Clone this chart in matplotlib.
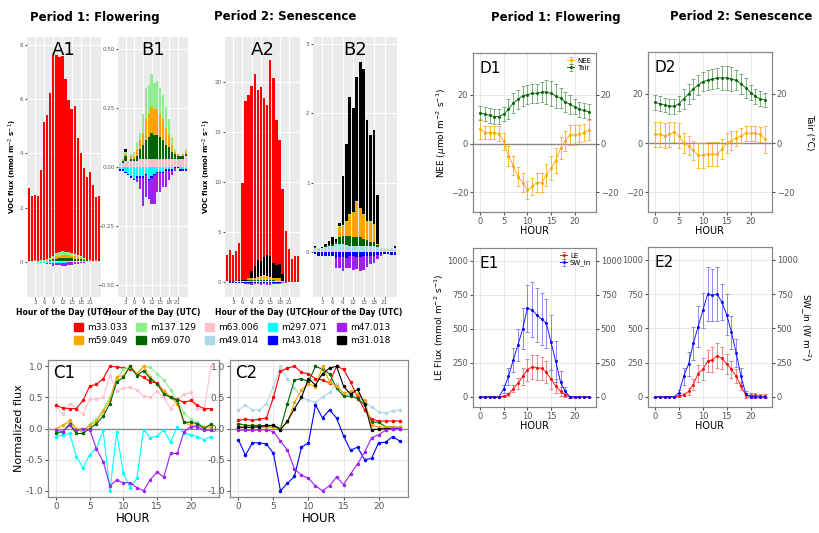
import numpy as np
import matplotlib.pyplot as plt
from matplotlib.patches import Patch

hours_bar = np.arange(1, 25)
hours = np.arange(0, 24)

species = ["m33.033", "m59.049", "m137.129", "m69.070", "m63.006",
           "m49.014", "m297.071", "m43.018", "m47.013", "m31.018"]
colors = {"m33.033": "#ff0000", "m59.049": "#ffa500", "m137.129": "#90ee90",
          "m69.070": "#006400", "m63.006": "#ffc0cb", "m49.014": "#add8e6",
          "m297.071": "#00ffff", "m43.018": "#0000ff", "m47.013": "#a020f0",
          "m31.018": "#000000"}

# period 1 (flowering) fluxes, nmol m-2 s-1
p1 = {
    "m33.033": [2.7, 2.4, 2.4, 2.4, 3.35, 5.1, 5.3, 6.1, 7.4, 7.3, 7.2, 7.2, 6.4, 5.6, 5.3, 5.45, 4.3, 3.8, 3.35, 3.05, 3.25, 2.8, 2.35, 2.35],
    "m63.006": [0.01, 0.01, 0.02, 0.02, 0.02, 0.02, 0.02, 0.03, 0.03, 0.03, 0.03, 0.03, 0.03, 0.03, 0.03, 0.03, 0.03, 0.03, 0.03, 0.03, 0.03, 0.03, 0.03, 0.04],
    "m49.014": [0.005] * 24,
    "m69.070": [0, 0.01, 0.02, 0, 0.01, 0.01, 0.02, 0.04, 0.06, 0.08, 0.09, 0.11, 0.1, 0.1, 0.09, 0.08, 0.06, 0.05, 0.03, 0.02, 0.01, 0.01, 0.01, 0.01],
    "m59.049": [0, 0, 0.01, 0, 0.01, 0.01, 0.03, 0.04, 0.05, 0.09, 0.1, 0.11, 0.11, 0.11, 0.1, 0.09, 0.07, 0.05, 0.03, 0.01, 0.01, 0, 0.01, 0.01],
    "m137.129": [0, 0.01, 0.01, 0, 0.01, 0.02, 0.03, 0.03, 0.08, 0.13, 0.12, 0.14, 0.11, 0.12, 0.11, 0.1, 0.09, 0.07, 0.03, 0.01, 0, 0, 0, 0.01],
    "m31.018": [0, 0, 0.01, 0, 0, 0, 0, 0, 0, 0, 0, 0, 0, 0, 0, 0, 0, 0, 0, 0, 0, 0, 0, 0],
    "m297.071": [-0.01, -0.01, -0.02, -0.03, -0.04, -0.05, -0.04, -0.04, -0.04, -0.03, -0.05, -0.04, -0.03, -0.02, -0.02, -0.02, -0.01, -0.01, -0.01, 0, 0, -0.01, -0.01, -0.01],
    "m43.018": [-0.005] * 24,
    "m47.013": [0, 0, 0, 0, 0, 0, -0.02, -0.05, -0.12, -0.09, -0.08, -0.11, -0.12, -0.08, -0.08, -0.06, -0.07, -0.04, -0.02, -0.01, 0, 0, 0, 0],
}
# period 2 (senescence)
p2 = {
    "m33.033": [2.6, 3.1, 2.6, 3.0, 3.7, 9.7, 17.9, 18.3, 18.5, 19.2, 17.0, 17.4, 15.9, 15.0, 19.6, 18.5, 14.5, 12.4, 8.5, 5.0, 3.3, 2.3, 2.5, 2.5],
    "m63.006": [0.01] * 24,
    "m49.014": [0.05, 0.04, 0.04, 0.06, 0.07, 0.08, 0.1, 0.1, 0.1, 0.09, 0.08, 0.08, 0.08, 0.08, 0.08, 0.08, 0.07, 0.07, 0.06, 0.04, 0.03, 0.03, 0.04, 0.04],
    "m69.070": [0.01, 0.01, 0.01, 0.01, 0.02, 0.02, 0.03, 0.1, 0.12, 0.13, 0.14, 0.13, 0.13, 0.12, 0.1, 0.08, 0.07, 0.07, 0.03, 0.01, 0, 0, 0.01, 0.01],
    "m59.049": [0, 0, 0, 0, 0, 0, 0, 0.15, 0.15, 0.2, 0.3, 0.35, 0.5, 0.42, 0.34, 0.27, 0.28, 0.25, 0.02, 0, 0, 0, 0, 0],
    "m137.129": [0, 0, 0, 0, 0, 0, 0, 0.01, 0.01, 0.01, 0.01, 0.01, 0.01, 0.01, 0.01, 0.01, 0.01, 0.01, 0, 0, 0, 0, 0, 0],
    "m31.018": [0.02, 0, 0.01, 0.03, 0.06, 0.1, 0.05, 0.05, 0.7, 1.12, 1.7, 1.5, 1.8, 2.1, 2.1, 1.45, 1.25, 1.35, 0.7, 0, 0, 0, 0, 0.03],
    "m297.071": [-0.005] * 24,
    "m43.018": [-0.03, -0.05, -0.05, -0.05, -0.05, -0.05, -0.08, -0.07, -0.07, -0.08, -0.06, -0.06, -0.07, -0.07, -0.06, -0.06, -0.05, -0.05, -0.04, -0.03, -0.03, -0.03, -0.04, -0.04],
    "m47.013": [0, 0, 0, 0, 0, 0, -0.15, -0.15, -0.2, -0.15, -0.17, -0.2, -0.17, -0.2, -0.2, -0.15, -0.12, -0.1, -0.05, -0.03, 0, 0, 0, 0],
}
pos_order = ["m63.006", "m49.014", "m69.070", "m59.049", "m137.129", "m31.018", "m33.033"]
neg_order = ["m297.071", "m43.018", "m47.013"]

# normalized fluxes
c1 = {
    "m63.006": [.35, .23, .4, .32, .23, .47, .47, .5, .85, .6, .65, .66, .62, .52, .5, .6, .5, .32, .45, .55, .58, .32, .3, 1.0],
    "m33.033": [.37, .33, .32, .32, .45, .68, .71, .8, 1.0, .99, .97, .96, .88, .82, .75, .73, .6, .5, .47, .42, .45, .37, .32, .32],
    "m137.129": [0, .05, .1, 0, -.05, .08, .15, .3, .5, .8, .95, .98, .88, 1.0, .98, .88, .78, .62, .45, .25, .15, .1, .03, .05],
    "m59.049": [0, .05, .13, 0, -.07, .05, .12, .28, .45, .83, .85, 1.0, .88, 1.0, .82, .72, .6, .5, .4, .1, .05, .05, .02, .02],
    "m69.070": [-.08, -.05, .07, -.08, -.08, 0, .08, .2, .4, .75, .82, 1.0, .85, .93, .8, .72, .55, .5, .45, .1, .1, .08, 0, .07],
    "m297.071": [-.13, -.1, -.08, -.45, -.63, -.42, -.32, -.03, -1.0, -.06, -.72, -.95, -.8, -.02, -.15, -.12, -.02, -.22, .02, -.07, -.1, -.13, -.18, -.13],
    "m47.013": [-.03, -.05, .05, -.03, 0, -.02, -.33, -.53, -.92, -.83, -.87, -.87, -.95, -1.0, -.82, -.7, -.78, -.4, -.4, -.05, .03, .03, -.03, -.03],
}
c2 = {
    "m49.014": [.3, .37, .3, .3, .4, .67, 1.0, .8, .65, .5, .45, .42, .5, .58, .72, .55, .55, .5, .43, .35, .27, .25, .28, .3],
    "m33.033": [.13, .15, .13, .15, .17, .5, .92, .97, 1.0, .9, .88, .8, .78, .73, 1.0, .95, .75, .5, .3, .15, .12, .12, .12, .12],
    "m69.070": [.08, .05, .05, .05, .03, .05, 0, .4, .78, .8, .75, 1.0, .95, .88, .65, .52, .52, .48, .38, .1, .1, .03, .02, .02],
    "m59.049": [.03, .02, .02, .02, .02, .02, 0, .1, .42, .62, .72, .67, 1.0, .75, .68, .57, .6, .55, .45, .05, .03, .02, .02, .02],
    "m31.018": [.02, .02, .02, .03, .05, .05, -.02, .12, .32, .5, .8, .7, .88, .97, 1.0, .68, .55, .63, .4, -.02, -.01, 0, 0, 0],
    "m43.018": [-.18, -.43, -.23, -.23, -.25, -.4, -1.0, -.88, -.77, -.3, -.23, .38, .17, .3, .17, -.12, -.35, -.3, -.5, -.48, -.23, -.22, -.13, -.2],
    "m47.013": [-.02, -.03, -.03, -.02, -.02, -.05, -.2, -.35, -.65, -.75, -.8, -.92, -1.0, -.92, -.78, -.9, -.73, -.57, -.38, -.15, -.1, -.03, 0, 0],
}

nee1 = [6, 4.5, 4.5, 4.5, 4, 1, -5, -9, -13.5, -16, -19, -17.5, -16, -16, -13, -10, -7, -2, 1, 3.5, 3.5, 4, 4.5, 5.5]
tair1 = [12.5, 12, 11.5, 11, 11, 12, 14, 16.5, 18, 19.5, 20, 20.5, 20.5, 21, 21, 20.5, 19.5, 18.5, 17, 16, 15, 14, 13.5, 13]
nee2 = [3.5, 3.5, 3, 3.5, 4.5, 3, 0, -1, -3, -5, -5, -4.5, -4.5, -4.5, -2.5, 0, 1, 2, 3, 4, 4, 4, 3.5, 1.5]
tair2 = [16.5, 16, 15.5, 15, 15, 16, 18, 20, 22, 23.5, 25, 25.5, 26, 26.5, 26.5, 26.5, 26, 25.5, 24, 22.5, 20.5, 19, 18, 17.5]
nee_err1 = [4, 2.5, 2.5, 2.5, 3, 3.5, 4, 4, 4, 4, 3.5, 3.5, 4, 4, 4.5, 5, 5, 4.5, 4, 4, 4, 3.5, 3.5, 4]
nee_err2 = [5, 5, 5, 5, 4, 5, 4, 4, 4, 5, 5, 5, 5, 5, 4, 4, 4, 3, 3, 3, 3, 3, 3, 5.5]
tair_err = [3, 3, 3, 3, 3, 3, 4, 4, 4, 4, 4, 4, 4, 4, 5, 5, 5, 4, 4, 4, 3, 3, 3, 3]

sw1 = [0, 0, 0, 0, 0, 60, 150, 270, 380, 500, 650, 640, 600, 570, 540, 400, 260, 110, 40, 0, 0, 0, 0, 0]
le1 = [0, 0, 0, 0, 0, 5, 20, 60, 100, 150, 200, 220, 215, 210, 180, 130, 80, 40, 15, 0, 0, 0, 0, 0]
sw2 = [0, 0, 0, 0, 0, 30, 150, 240, 390, 510, 630, 750, 740, 750, 690, 600, 470, 320, 150, 20, 0, 0, 0, 0]
le2 = [0, 0, 0, 0, 0, 5, 15, 40, 90, 170, 200, 260, 270, 300, 280, 240, 200, 150, 80, 10, 10, 10, 5, 5]
sw_err1 = [0, 0, 0, 0, 0, 30, 60, 90, 120, 150, 170, 200, 200, 190, 180, 200, 150, 80, 30, 5, 0, 0, 0, 0]
sw_err2 = [0, 0, 0, 0, 0, 20, 60, 90, 120, 150, 130, 200, 190, 200, 130, 150, 120, 100, 60, 20, 0, 0, 0, 0]
le_err1 = [0, 0, 0, 0, 0, 5, 10, 25, 40, 60, 80, 90, 90, 85, 80, 70, 50, 30, 15, 5, 0, 0, 0, 0]
le_err2 = [0, 0, 0, 0, 0, 5, 10, 25, 40, 60, 80, 80, 90, 90, 80, 70, 60, 50, 30, 20, 20, 20, 15, 15]

W, H = 820, 533
fig = plt.figure(figsize=(8.2, 5.33), dpi=100)


def ax_px(x0, y0, x1, y1):
    return fig.add_axes([x0 / W, 1 - y1 / H, (x1 - x0) / W, (y1 - y0) / H])


def bar_panel(ax, data, names, ylim, yticks, ylabel, label):
    ax.set_facecolor("#ebebeb")
    ax.grid(True, color="white", lw=0.8)
    ax.set_axisbelow(True)
    for s in ax.spines.values():
        s.set_visible(False)
    up = np.zeros(24)
    down = np.zeros(24)
    for n in pos_order:
        if n in names:
            v = np.array(data[n])
            ax.bar(hours_bar, v, 0.75, bottom=up, color=colors[n], lw=0)
            up += v
    for n in neg_order:
        if n in names:
            v = np.array(data[n])
            ax.bar(hours_bar, v, 0.75, bottom=down, color=colors[n], lw=0)
            down += v
    ax.set_xlim(0.4, 24.6)
    ax.set_ylim(*ylim)
    ax.set_yticks(yticks)
    ax.set_xticks(range(3, 22, 3))
    ax.tick_params(labelsize=4, length=1.5, colors="#555555", pad=1)
    ax.set_xlabel("Hour of the Day (UTC)", fontsize=5.5, fontweight="bold", labelpad=2)
    if ylabel:
        ax.set_ylabel("VOC flux (nmol m$^{-2}$ s$^{-1}$)", fontsize=5, fontweight="bold", labelpad=1)
    ax.text(0.5, 0.985, label, transform=ax.transAxes, ha="center", va="top", fontsize=13)


allsp = species
nored = [s for s in species if s != "m33.033"]
bar_panel(ax_px(27, 37, 101, 297), p1, allsp, (-1.3, 8.3), [0, 2, 4, 6, 8], True, "A1")
bar_panel(ax_px(118, 37, 188, 297), p1, nored, (-0.55, 0.55), [-0.5, -0.25, 0, 0.25, 0.5], False, "B1")
bar_panel(ax_px(225, 37, 300, 297), p2, allsp, (-1.5, 24.5), [0, 5, 10, 15, 20], True, "A2")
bar_panel(ax_px(313, 37, 397, 297), p2, nored, (-0.65, 3.1), [0, 1, 2, 3], False, "B2")

for xt, t in [(95, "Period 1: Flowering"), (285, "Period 2: Senescence"),
              (556, "Period 1: Flowering"), (741, "Period 2: Senescence")]:
    fig.text(xt / W, 1 - 17 / H, t, ha="center", va="center", fontsize=8.5, fontweight="bold")

handles = [Patch(color=colors[s], label=s) for s in species]
fig.legend(handles=handles, ncol=5, loc="center", bbox_to_anchor=(232 / W, 1 - 334 / H),
           frameon=False, fontsize=6.5, handlelength=1.0, handleheight=1.0,
           columnspacing=1.0, handletextpad=0.5, labelspacing=0.35)


def bw(ax):
    ax.grid(True, color="#e5e5e5", lw=0.6)
    ax.set_axisbelow(True)
    for s in ax.spines.values():
        s.set_color("#888888")
        s.set_linewidth(0.9)
    ax.tick_params(labelsize=6, length=2, colors="#555555", pad=1.5)


def c_panel(ax, data, label, ylabel):
    bw(ax)
    ax.axhline(0, color="#888888", lw=1.0)
    for n, v in data.items():
        ax.plot(hours, v, "-o", color=colors[n], ms=1.5, lw=0.8)
    ax.set_xlim(-1.2, 24.2)
    ax.set_ylim(-1.1, 1.1)
    ax.set_yticks([-1, -0.5, 0, 0.5, 1])
    ax.set_yticklabels(["-1.0", "-0.5", "0.0", "0.5", "1.0"])
    ax.set_xticks([0, 5, 10, 15, 20])
    ax.tick_params(labelsize=6.5)
    ax.set_xlabel("HOUR", fontsize=8.5, labelpad=1)
    if ylabel:
        ax.set_ylabel("Normalized flux", fontsize=8, labelpad=1)
    ax.text(0.03, 0.97, label, transform=ax.transAxes, ha="left", va="top", fontsize=12)


c_panel(ax_px(48, 360, 219, 497), c1, "C1", True)
c_panel(ax_px(230, 360, 408, 497), c2, "C2", False)


def d_panel(ax, nee, ne, tair, label, left, right, legend):
    bw(ax)
    ax.axhline(0, color="#888888", lw=1.0)
    ax.errorbar(hours, nee, yerr=ne, color="#ffa500", ecolor="#ffa500", elinewidth=0.6,
                capsize=1.5, capthick=0.6, marker="o", ms=1.2, lw=0.7, alpha=0.9, label="NEE")
    ax.errorbar(hours, tair, yerr=tair_err, color="#006400", ecolor="#5a9a5a", elinewidth=0.6,
                capsize=1.5, capthick=0.6, marker="o", ms=1.2, lw=0.7, alpha=0.9, label="Tair")
    ax.set_xlim(-1.5, 24.5)
    ax.set_ylim(-28, 37)
    ax.set_yticks([-20, 0, 20])
    ax.set_xticks([0, 5, 10, 15, 20])
    ax.set_xlabel("HOUR", fontsize=7, labelpad=0)
    if left:
        ax.set_ylabel("NEE ($\\mu$mol m$^{-2}$ s$^{-1}$)", fontsize=6.5, labelpad=1)
    r = ax.twinx()
    r.set_ylim(-28, 37)
    r.set_yticks([-20, 0, 20])
    r.tick_params(labelsize=6, length=2, colors="#555555", pad=1.5)
    for s in r.spines.values():
        s.set_visible(False)
    if right:
        r.set_ylabel("Tair (°C)", fontsize=6.5, rotation=270, labelpad=14)
    if legend:
        ax.legend(loc="upper right", fontsize=5, frameon=False, handlelength=1.0,
                  borderpad=0.2, labelspacing=0.1, handletextpad=0.4)
    ax.text(0.05, 0.95, label, transform=ax.transAxes, ha="left", va="top", fontsize=11)


def e_panel(ax, le, lerr, sw, serr, label, left, right, legend):
    bw(ax)
    ax.errorbar(hours, le, yerr=lerr, color="#ff0000", ecolor="#e86a6a", elinewidth=0.6,
                capsize=1.5, capthick=0.6, marker="o", ms=1.2, lw=0.7, alpha=0.9, label="LE")
    ax.errorbar(hours, sw, yerr=serr, color="#0000ff", ecolor="#6a6af0", elinewidth=0.6,
                capsize=1.5, capthick=0.6, marker="o", ms=1.2, lw=0.7, alpha=0.9, label="SW_in")
    ax.set_xlim(-1.5, 24.5)
    ax.set_ylim(-74, 1093)
    ax.set_yticks([0, 250, 500, 750, 1000])
    ax.set_xticks([0, 5, 10, 15, 20])
    ax.set_xlabel("HOUR", fontsize=7, labelpad=0)
    if left:
        ax.set_ylabel("LE Flux (mmol m$^{-2}$ s$^{-1}$)", fontsize=6.5, labelpad=1)
    r = ax.twinx()
    r.set_ylim(-74, 1093)
    r.set_yticks([0, 250, 500, 750, 1000])
    r.tick_params(labelsize=6, length=2, colors="#555555", pad=1.5)
    for s in r.spines.values():
        s.set_visible(False)
    if right:
        r.set_ylabel("SW_in (W m$^{-2}$)", fontsize=6.5, rotation=270, labelpad=10)
    if legend:
        ax.legend(loc="upper right", fontsize=5, frameon=False, handlelength=1.0,
                  borderpad=0.2, labelspacing=0.1, handletextpad=0.4)
    ax.text(0.05, 0.95, label, transform=ax.transAxes, ha="left", va="top", fontsize=11)


d_panel(ax_px(473, 53, 596, 212), nee1, nee_err1, tair1, "D1", True, False, True)
d_panel(ax_px(648, 52, 772, 212), nee2, nee_err2, tair2, "D2", False, True, False)
e_panel(ax_px(473, 248, 596, 407), le1, le_err1, sw1, sw_err1, "E1", True, False, True)
e_panel(ax_px(648, 247, 772, 407), le2, le_err2, sw2, sw_err2, "E2", False, True, False)

fig.savefig("out.png", dpi=100)
